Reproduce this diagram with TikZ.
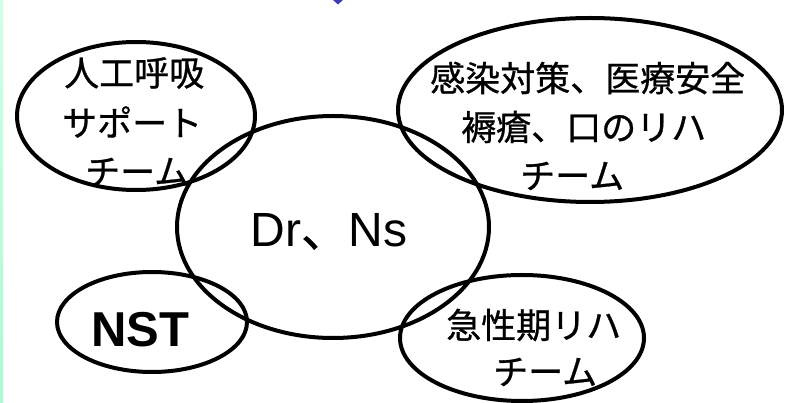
\documentclass[tikz,border=0pt]{standalone}
\usepackage{fontspec}
\setmainfont{Liberation Sans}
\newfontfamily\jp[FakeBold=0.8]{Noto Sans CJK JP}
\tikzset{
  ring/.style={draw=black, line width=4pt},
  jtext/.style={inner sep=0pt, anchor=west, font=\jp\fontsize{35}{35}\selectfont},
}
\begin{document}
\begin{tikzpicture}[x=1pt,y=-1pt]
\useasboundingbox (0,0) rectangle (788,403);
\fill[white] (0,0) rectangle (788,403);
\shade[top color={rgb,255:red,208;green,255;blue,232}, bottom color={rgb,255:red,170;green,250;blue,210}] (0,0) rectangle (3,403);
\fill[fill={rgb,255:red,60;green,60;blue,180}] (333,0) -- (343,0) -- (338,4.5) -- cycle;
% ellipses
\draw[ring] (136,116) ellipse [x radius=119, y radius=74];
\draw[ring] (590,110) ellipse [x radius=192, y radius=92];
\draw[ring] (333,227) ellipse [x radius=156, y radius=111];
\draw[ring] (152,322) ellipse [x radius=95, y radius=50];
\draw[ring] (522,338) ellipse [x radius=122, y radius=63];
% texts
\node[jtext] (l1) at (64,73) {人工呼吸};
\node[jtext] (l2) at (62,122) {サポート};
\node[jtext] (l3) at (85,172) {チーム};
\node[jtext] (r1) at (430,78) {感染対策、医療安全};
\node[jtext] (r2) at (461,127) {褥瘡、口のリハ};
\node[jtext] (r3) at (520,176) {チーム};
\node[jtext] (a1) at (446,325) {急性期リハ};
\node[jtext] (a2) at (493,372) {チーム};
\node[inner sep=0pt, anchor=base, font=\fontsize{48}{48}\selectfont] (c) at (329,247) {Dr{\jp 、}Ns};
\node[inner sep=0pt, anchor=base, font=\bfseries\fontsize{49}{49}\selectfont] (n) at (140,347) {NST};
\end{tikzpicture}
\end{document}
